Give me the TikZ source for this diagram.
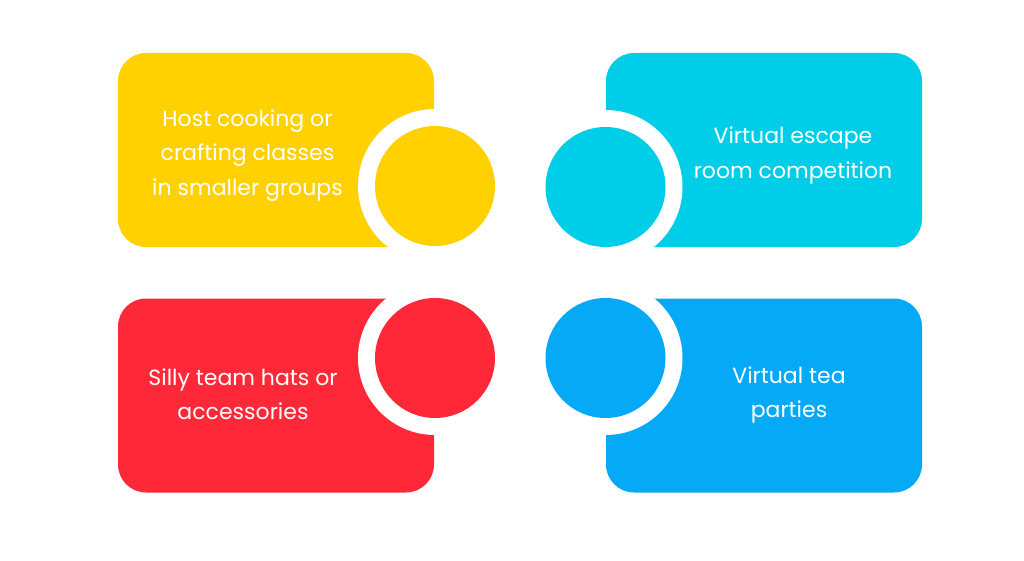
\documentclass[tikz,border=0pt]{standalone}
\usepackage{fontspec}
\setmainfont{Poppins}
\definecolor{cyellow}{HTML}{FFD100}
\definecolor{ccyan}{HTML}{00CDE8}
\definecolor{cred}{HTML}{FF2838}
\definecolor{cblue}{HTML}{05A9F5}
\begin{document}
\begin{tikzpicture}[x=1pt,y=-1pt,
  card/.style={rectangle, rounded corners=28pt, minimum width=316pt, minimum height=194pt, inner sep=0pt, fill=#1},
  ring/.style={circle, fill=white, minimum size=154pt, inner sep=0pt},
  dot/.style={circle, fill=#1, minimum size=120pt, inner sep=0pt},
  label/.style={text=white, align=center, font=\fontsize{22}{34.5}\selectfont, inner sep=0pt}]
\useasboundingbox (0,0) rectangle (1024,561);
% cards
\node[card=cyellow] (c1) at (276,150) {};
\node[card=ccyan]   (c2) at (764,150) {};
\node[card=cred]    (c3) at (276,395.5) {};
\node[card=cblue]   (c4) at (764,395.5) {};
% rings
\node[ring] (r1) at (435,186) {};
\node[ring] (r2) at (605.5,187) {};
\node[ring] (r3) at (435,358) {};
\node[ring] (r4) at (605.5,358) {};
% dots
\node[dot=cyellow] (d1) at (r1) {};
\node[dot=ccyan]   (d2) at (r2) {};
\node[dot=cred]    (d3) at (r3) {};
\node[dot=cblue]   (d4) at (r4) {};
% texts
\node[label] (t1) at (247.5,155.5) {Host cooking or\\crafting classes\\in smaller groups};
\node[label] (t2) at (793,155.5) {Virtual escape\\room competition};
\node[label] (t3) at (243,394) {Silly team hats or\\accessories};
\node[label] (t4) at (789,395) {Virtual tea\\parties};
\end{tikzpicture}
\end{document}
